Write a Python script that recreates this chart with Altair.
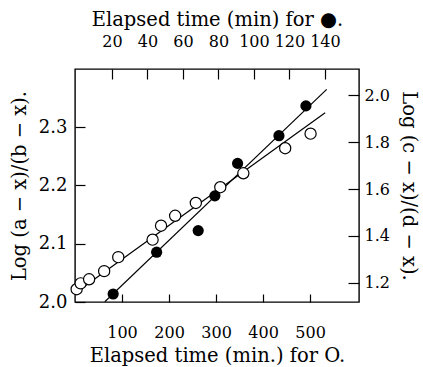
import altair as alt
import pandas as pd

# Open circles: bottom x (min), left y
open_x = [3.5, 12, 30, 62, 92, 165, 183, 213, 257, 309, 358, 447, 501]
open_y = [2.022, 2.032, 2.039, 2.053, 2.077, 2.107, 2.131, 2.148, 2.170, 2.197, 2.221, 2.264, 2.289]
# Filled circles: top x (min), right y
filled_t = [20.7, 45.2, 68.6, 78, 90.8, 114.1, 129.3]
filled_y = [1.153, 1.331, 1.423, 1.571, 1.709, 1.827, 1.954]
# Fitted lines (end points)
open_line_x = [3.5, 532]
open_line_y = [2.017, 2.325]
filled_line_t = [16, 141]
filled_line_y = [1.12, 2.024]

bottom_ticks = [100, 200, 300, 400, 500]
top_ticks = [20, 40, 60, 80, 100, 120, 140]
left_ticks = [2.0, 2.1, 2.2, 2.3]
right_ticks = [1.2, 1.4, 1.6, 1.8, 2.0]

FONT = "DejaVu Serif"

df_open = pd.DataFrame({"x": open_x, "y": open_y})
df_open_line = pd.DataFrame({"x": open_line_x, "y": open_line_y})
df_filled = pd.DataFrame({"t": filled_t, "y": filled_y})
df_filled_line = pd.DataFrame({"t": filled_line_t, "y": filled_line_y})

xb_scale = alt.Scale(domain=[0, 604], nice=False, zero=False)
yl_scale = alt.Scale(domain=[2.0, 2.4], nice=False, zero=False)
xt_scale = alt.Scale(domain=[-0.8, 159.2], nice=False, zero=False)
yr_scale = alt.Scale(domain=[1.119, 2.111], nice=False, zero=False)

common_axis = dict(domain=False, grid=False, tickColor="black", tickWidth=1.2,
                   labelFont=FONT, titleFont=FONT, labelColor="black", titleColor="black",
                   titleFontSize=19.5, titleFontWeight="normal")

x_bottom_axis = alt.Axis(orient="bottom", values=bottom_ticks, tickSize={"expr": "-8"},
                         labelFontSize=16, labelPadding=30,
                         title="Elapsed time (min.) for O.", titlePadding=6,
                         **common_axis)
y_left_axis = alt.Axis(orient="left", values=left_ticks, format=".1f", tickSize={"expr": "-10"},
                       labelFontSize=18, labelPadding=18,
                       title="Log (a − x)/(b − x).", titlePadding=9,
                       **common_axis)
x_top_axis = alt.Axis(orient="top", values=top_ticks, tickSize={"expr": "-10"},
                      labelFontSize=16, labelPadding=30,
                      title="Elapsed time (min) for ●.", titlePadding=4,
                      **common_axis)
y_right_axis = alt.Axis(orient="right", values=right_ticks, format=".1f", tickSize={"expr": "-11"},
                        labelFontSize=16, labelPadding=16,
                        title="Log (c − x)/(d − x).", titlePadding=9,
                        **common_axis)

open_line = alt.Chart(df_open_line).mark_line(color="black", strokeWidth=1.2, clip=True).encode(
    x=alt.X("x:Q", scale=xb_scale, axis=None),
    y=alt.Y("y:Q", scale=yl_scale, axis=None),
)
open_pts = alt.Chart(df_open).mark_circle(fill="white", stroke="black", strokeWidth=1.2,
                                          size=125, opacity=1).encode(
    x=alt.X("x:Q", scale=xb_scale, axis=x_bottom_axis),
    y=alt.Y("y:Q", scale=yl_scale, axis=y_left_axis),
)
filled_line = alt.Chart(df_filled_line).mark_line(color="black", strokeWidth=1.2, clip=True).encode(
    x=alt.X("t:Q", scale=xt_scale, axis=None),
    y=alt.Y("y:Q", scale=yr_scale, axis=None),
)
filled_pts = alt.Chart(df_filled).mark_circle(color="black", size=125, opacity=1).encode(
    x=alt.X("t:Q", scale=xt_scale, axis=x_top_axis),
    y=alt.Y("y:Q", scale=yr_scale, axis=y_right_axis),
)

chart = alt.layer(open_line, filled_line, open_pts, filled_pts).resolve_scale(
    x="independent", y="independent"
).resolve_axis(
    x="independent", y="independent"
).properties(
    width=284, height=233,
    autosize=alt.AutoSizeParams(type="none"),
    padding={"left": 75, "top": 69, "right": 64, "bottom": 65},
    background="white",
).configure_view(stroke="black", strokeWidth=1.4)

chart.save("out.html", embed_options={"renderer": "svg", "actions": False})
